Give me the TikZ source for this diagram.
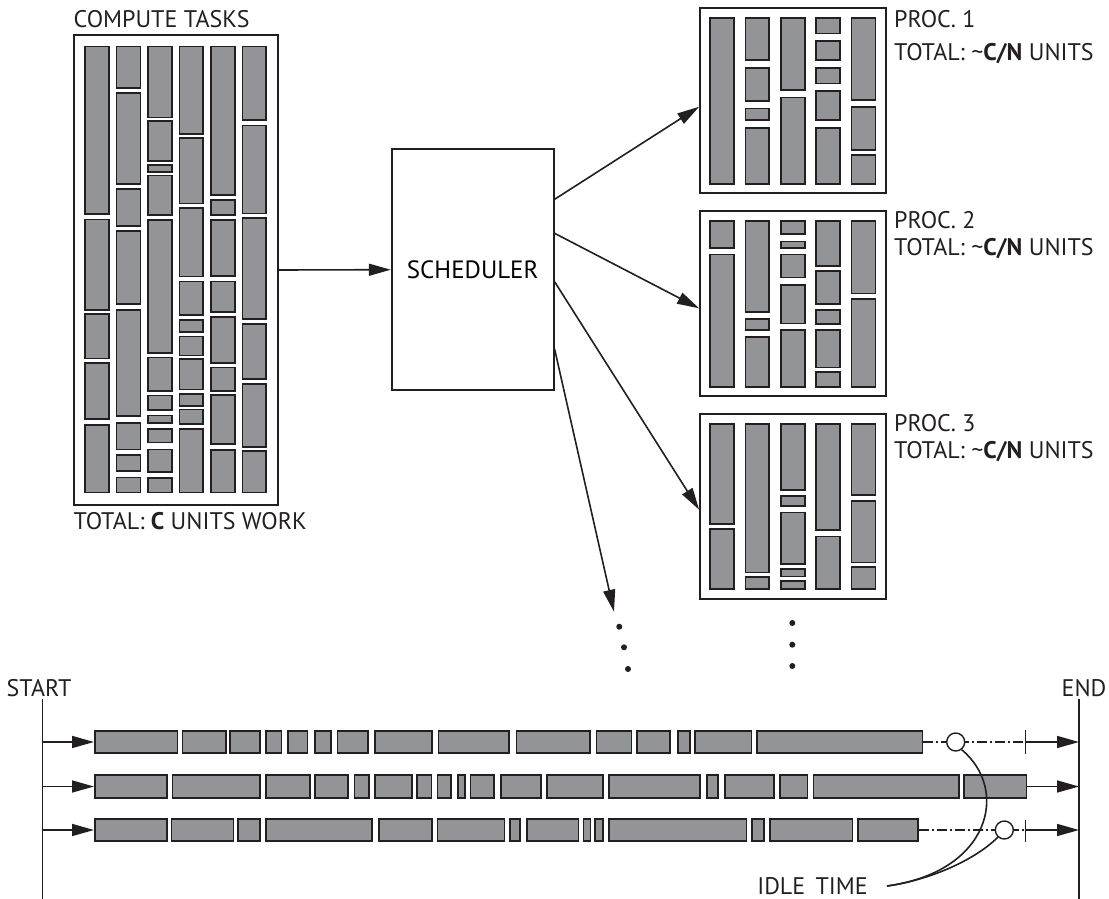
\documentclass[tikz,border=0pt]{standalone}
\usepackage{fontspec}
\setmainfont{PT Sans}
\definecolor{task-gray}{HTML}{929497}
\definecolor{ink}{HTML}{231F20}
\usepackage{tikz}
\usetikzlibrary{arrows.meta,positioning,calc}

\begin{document}
\begin{tikzpicture}[x=1pt, y=-1pt,
  frame/.style={rectangle, draw=ink, line width=1.8pt, fill=white, inner sep=0pt},
  task/.style={draw=ink, fill=task-gray, line width=1.7pt},
  lbl/.style={inner sep=0pt, font=\fontsize{24}{28}\selectfont, text=ink},
  arr/.style={-{Triangle[length=22pt,width=12pt]}, line width=1.6pt, draw=ink},
  gapline/.style={line width=1.4pt, draw=ink, dash pattern=on 10pt off 3pt on 2pt off 3pt},
  ring/.style={circle, draw=ink, fill=white, line width=1.4pt, minimum size=18pt, inner sep=0pt},
  dot/.style={circle, fill=ink, inner sep=0pt, minimum size=6pt}]

  \useasboundingbox (0,0) rectangle (1109,899);

  % task pool
  \node[frame, minimum width=203.7pt, minimum height=470pt] (tasks) at (176.2,270) {};
  \node[lbl, anchor=west] (poolname) at ([yshift=15pt]tasks.north west) {COMPUTE TASKS};
  \node[lbl, anchor=west] (poolsum) at ([yshift=-15pt]tasks.south west) {TOTAL: \textbf{C} UNITS WORK};
  \foreach \cx/\spans in {
      84.4/{45.7/215,218.7/310.7,313.3/359.3,362.3/420,424/493.3},
      115.8/{45.7/89,92/185,188.3/226.7,230/305,309.3/417,422/450.3,454.3/472,476.7/493.3},
      147.2/{45.7/118.3,120.3/161.7,164/172.7,174.7/216,219.3/354,356.7/391.7,394.7/411,414.7/424,428.3/443.3,448.7/472.7,477.3/493.3},
      178.6/{45.7/135,137.3/204.3,207.3/277.3,280.7/316,319/332.7,335.7/356.3,358.3/390.3,393.3/406.7,408.7/424.7,428.3/493.3},
      210/{45.7/195.7,199.3/216,219/277,280.7/312.7,316/363.7,366.7/391.7,394/445,449.3/493.3},
      241.6/{45.7/121,124.7/214.3,217.3/320,323.3/380,383.3/447.7,450.3/493.3}}
    \foreach \ya/\yb in \spans
      \draw[task] (\cx+0.8,\ya+0.8) rectangle (\cx+24.7,\yb-0.8);

  % scheduler
  \node[frame, minimum width=162pt, minimum height=240.7pt, font=\fontsize{25}{28}\selectfont] (sched) at (472.7,269.7) {SCHEDULER};
  \draw[arr] (tasks.east) -- (sched.west);

  % processors
  \node[frame, minimum width=186pt, minimum height=185pt] (p1) at (793,100.8) {};
  \node[frame, minimum width=186pt, minimum height=185pt] (p2) at (793,303.5) {};
  \node[frame, minimum width=186pt, minimum height=185pt] (p3) at (793,506.7) {};

  \node[lbl, anchor=west] (p1name) at ([xshift=7pt,yshift=-12pt]p1.north east) {PROC. 1};
  \node[lbl, anchor=west] (p1sum) at ([xshift=7pt,yshift=-46pt]p1.north east) {TOTAL: \textasciitilde\textbf{C/N} UNITS};
  \node[lbl, anchor=west] (p2name) at ([xshift=7pt,yshift=-10pt]p2.north east) {PROC. 2};
  \node[lbl, anchor=west] (p2sum) at ([xshift=7pt,yshift=-39pt]p2.north east) {TOTAL: \textasciitilde\textbf{C/N} UNITS};
  \node[lbl, anchor=west] (p3name) at ([xshift=7pt,yshift=-10pt]p3.north east) {PROC. 3};
  \node[lbl, anchor=west] (p3sum) at ([xshift=7pt,yshift=-38pt]p3.north east) {TOTAL: \textasciitilde\textbf{C/N} UNITS};

  \foreach \cx/\spans in {
      709.3/{17.3/185},
      744.6/{17.3/60.7,67.3/101.7,107.7/121,127.3/185},
      780/{17.3/90.7,96.7/185},
      815.3/{17.3/34.3,40/61,67.3/84.3,90/121,127.3/185},
      850.7/{17.3/101,106/150.7,154/185},
      709.3/{220/248.7,253.7/387.7},
      744.6/{220/312.7,318.3/330.7,336/387.7},
      780/{220/235,240.7/248.7,253.7/278.3,284/324.3,329.3/387.7},
      815.3/{220/267,270.3/305,309.3/325,329.3/368.3,371/387.7},
      850.7/{220/294.3,298.3/387.7},
      709.3/{423.3/525,528.3/590},
      744.6/{423.3/573.3,576/590},
      780/{423.3/491,495/507,511.7/565,568.3/577.3,580/590},
      815.3/{423.3/531,535.7/590},
      850.7/{423.3/496,500/563.3,566/590}}
    \foreach \ya/\yb in \spans
      \draw[task] (\cx+0.8,\ya+0.8) rectangle (\cx+24.7,\yb-0.8);

  \coordinate (more) at (614,611.7);
  \draw[arr] ([yshift=70.4pt]sched.east) -- ([yshift=-6pt]p1.west);
  \draw[arr] ([yshift=36.4pt]sched.east) -- ([yshift=-4.8pt]p2.west);
  \draw[arr] ([yshift=-12pt]sched.east) -- ([yshift=-3pt]p3.west);
  \draw[arr] ([yshift=-79.3pt]sched.east) -- (more);

  \node[dot] (d1) at (619.3,626.7) {};
  \node[dot] (d2) at (624,647.3) {};
  \node[dot] (d3) at (628,669) {};
  \node[dot] (d4) at (792.3,623) {};
  \node[dot] (d5) at (792.3,644.7) {};
  \node[dot] (d6) at (792.3,666) {};

  % timeline
  \node[lbl, anchor=south] (start) at (39,697) {START};
  \node[lbl, anchor=south] (end) at (1084,697) {END};
  \coordinate (st0) at (42.3,699);
  \coordinate (stf) at (42.3,899);
  \coordinate (en0) at (1079,699);
  \coordinate (enf) at (1079,899);
  \draw[line width=1.5pt, ink] (st0) -- (stf);
  \draw[line width=1.5pt, ink] (en0) -- (enf);

  \foreach \a/\b in {94/178.3,181.7/226.7,229.3/261,265.3/282.3,287/308.3,314/331.7,336.7/369,374/432.7,437.7/510,515.7/590.7,595.7/632.3,636/671,677/690.7,694.3/752.3,756/923.3}
    \draw[task] (\a+0.8,730.8) rectangle (\b-0.8,753.2);
  \foreach \a/\b in {94/167.7,171.7/260.7,265.3/310.7,314.3/349,353.7/370,374/412.7,416/432.3,436.7/452,457.3/465.7,469.7/495,500.3/541.7,546/604,608.3/700.7,706/719,724.3/775,779.3/808.3,812.7/960,963.3/1027.3}
    \draw[task] (\a+0.8,775.3) rectangle (\b-0.8,797.7);
  \foreach \a/\b in {94/167.7,170.7/234.3,237.3/261,265.3/372.7,378.3/432.7,436.7/505.3,509.3/521,526/579.3,582.7/591.3,594/604,608.3/747.3,751/765,769.3/853.3,857.3/919}
    \draw[task] (\a+0.8,818.8) rectangle (\b-0.8,841.2);

  \foreach \r/\y in {1/742,2/786.5,3/830} {
    \coordinate (s\r) at (42.3,\y);
    \coordinate (b\r) at (94,\y);
    \coordinate (e\r) at (1079,\y);
    \draw[arr] (s\r) -- (b\r);
  }
  \coordinate (r1z) at (923.3,742);
  \coordinate (t1) at (1025.7,742);
  \coordinate (r2z) at (1027.3,786.5);
  \coordinate (r3z) at (919,830);
  \coordinate (t3) at (1025.7,830);

  \draw[gapline] (r1z) -- (t1);
  \draw[gapline] (r3z) -- (t3);
  \draw[line width=1.4pt, ink] ([yshift=12pt]t1) -- ([yshift=-12pt]t1);
  \draw[line width=1.4pt, ink] ([yshift=10pt]t3) -- ([yshift=-12pt]t3);
  \draw[arr] (t1) -- (e1);
  \draw[arr] (r2z) -- (e2);
  \draw[arr] (t3) -- (e3);

  \node[ring] (idle1) at (955.7,742) {};
  \node[ring] (idle3) at (1004.3,830) {};

  \node[lbl, anchor=east, inner xsep=19pt] (idle) at (887,886) {IDLE\, TIME};
  \draw[line width=1.6pt, ink] (idle.east) .. controls (990,872) and (1010,790) .. (idle1.-52);
  \draw[line width=1.6pt, ink] (idle.east) .. controls (930,880) and (975,860) .. (idle3.-132);

\end{tikzpicture}
\end{document}
